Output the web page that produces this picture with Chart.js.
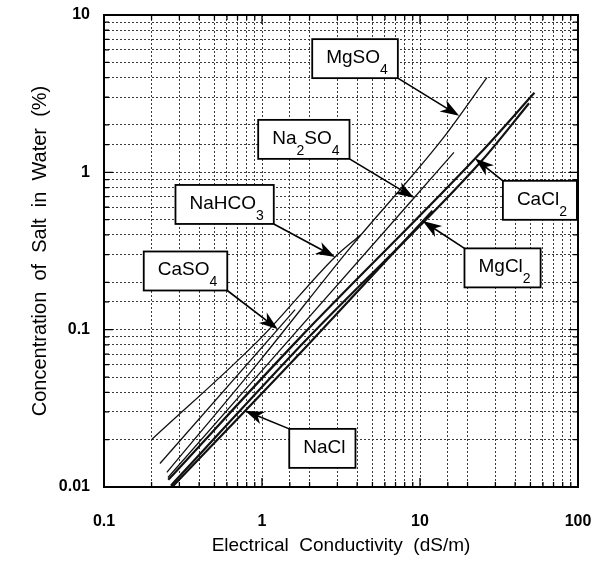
<!DOCTYPE html>
<html>
<head>
<meta charset="utf-8">
<script src="https://cdn.jsdelivr.net/npm/chart.js@4.4.1/dist/chart.umd.min.js"></script>
<style>
  html, body { margin: 0; padding: 0; background: #fff; }
</style>
</head>
<body>
<canvas id="saltChart" width="602" height="569"></canvas>
<script>
// decade labels on the two log axes
const xTickLabels = ["0.1", "1", "10", "100"];
const yTickLabels = ["0.01", "0.1", "1", "10"];

// salt curves: electrical conductivity (dS/m) vs concentration (%)
const nahco3EC = [0.2, 1.0, 2.9, 4.2];
const nahco3Conc = [0.02, 0.09, 0.29, 0.40];

const mgso4EC = [0.25, 1.0, 3.6, 13.8, 26.5];
const mgso4Conc = [0.0124, 0.066, 0.33, 1.62, 4.0];

const caso4EC = [0.226, 1.62];
const caso4Conc = [0.0141, 0.134];

const na2so4EC = [0.254, 9.3, 16.4];
const na2so4Conc = [0.0115, 0.70, 1.34];

const cacl2EC = [0.255, 1.74, 24, 53];
const cacl2Conc = [0.0111, 0.089, 1.32, 3.2];

const mgcl2EC = [0.265, 1.86, 24.5, 49];
const mgcl2Conc = [0.0102, 0.084, 1.18, 2.75];

const naclEC = [0.27, 1.95, 12];
const naclConc = [0.0100, 0.080, 0.57];

const FONT = "'Liberation Sans', Arial, Helvetica, sans-serif";
Chart.defaults.font.family = FONT;
Chart.defaults.color = "#000";

function series(name, ec, conc, width) {
  return {
    label: name,
    data: ec.map((x, i) => ({ x: x, y: conc[i] })),
    borderColor: "#111",
    borderWidth: width,
    pointRadius: 0,
    fill: false,
    cubicInterpolationMode: "monotone"
  };
}

const datasets = [
  series("NaHCO3", nahco3EC, nahco3Conc, 1.3),
  series("MgSO4", mgso4EC, mgso4Conc, 1.3),
  series("CaSO4", caso4EC, caso4Conc, 1.3),
  series("Na2SO4", na2so4EC, na2so4Conc, 1.3),
  series("CaCl2", cacl2EC, cacl2Conc, 2.2),
  series("MgCl2", mgcl2EC, mgcl2Conc, 2.2),
  series("NaCl", naclEC, naclConc, 2.2)
];

// boxed labels with arrows; "_" marks a subscript character
const notes = [
  { text: "MgSO_4", set: 1, tipX: 17.7, boxX: 3.88, boxY: 5.28, corner: "br" },
  { text: "Na_2SO_4", set: 3, tipX: 9.17, boxX: 1.84, boxY: 1.62, corner: "br" },
  { text: "NaHCO_3", set: 0, tipX: 2.9, boxX: 0.58, boxY: 0.625, corner: "br" },
  { text: "CaSO_4", set: 2, tipX: 1.26, boxX: 0.328, boxY: 0.236, corner: "br" },
  { text: "CaCl_2", set: 4, tipX: 22.3, boxX: 57.4, boxY: 0.664, corner: "tl" },
  { text: "MgCl_2", set: 5, tipX: 10.4, boxX: 33.3, boxY: 0.247, corner: "tl" },
  { text: "NaCl", set: 6, tipX: 0.78, boxX: 2.41, boxY: 0.0176, corner: "tl" }
];

function decadeLabel(labels, firstExp) {
  return function (value) {
    const e = Math.log10(value);
    const r = Math.round(e);
    if (Math.abs(e - r) > 1e-6) return "";
    return labels[r - firstExp] || "";
  };
}

// y on a series at a given x, straight in log-log between points
function valueAt(set, x) {
  const pts = datasets[set].data;
  const lx = Math.log10(x);
  for (let i = 0; i < pts.length - 1; i++) {
    const a = pts[i], b = pts[i + 1];
    const la = Math.log10(a.x), lb = Math.log10(b.x);
    if (lx >= la && lx <= lb) {
      const t = (lx - la) / (lb - la);
      return Math.pow(10, Math.log10(a.y) + t * (Math.log10(b.y) - Math.log10(a.y)));
    }
  }
  return pts[pts.length - 1].y;
}

function splitText(str) {
  const parts = [];
  for (let i = 0; i < str.length; i++) {
    if (str[i] === "_") {
      parts.push({ s: str[i + 1], sub: true });
      i++;
    } else if (parts.length && !parts[parts.length - 1].sub) {
      parts[parts.length - 1].s += str[i];
    } else {
      parts.push({ s: str[i], sub: false });
    }
  }
  return parts;
}

function drawArrow(ctx, x0, y0, x1, y1) {
  const a = Math.atan2(y1 - y0, x1 - x0);
  const c = Math.cos(a), s = Math.sin(a);
  const len = 19, half = 6.5;
  const bx = x1 - len * c, by = y1 - len * s;
  ctx.beginPath();
  ctx.moveTo(x0, y0);
  ctx.lineTo(x1 - 10 * c, y1 - 10 * s);
  ctx.stroke();
  ctx.beginPath();
  ctx.moveTo(x1, y1);
  ctx.lineTo(bx - half * s, by + half * c);
  ctx.lineTo(x1 - 0.72 * len * c, y1 - 0.72 * len * s);
  ctx.lineTo(bx + half * s, by - half * c);
  ctx.closePath();
  ctx.fill();
}

const framePlugin = {
  id: "frameAndNotes",
  afterDatasetsDraw(chart) {
    const { ctx, chartArea: ca, scales } = chart;
    ctx.save();
    ctx.strokeStyle = "#000";
    ctx.fillStyle = "#000";

    // inward tick marks on all four sides
    ctx.lineWidth = 1.3;
    scales.x.ticks.forEach((t) => {
      const px = scales.x.getPixelForValue(t.value);
      const e = Math.log10(t.value);
      const len = Math.abs(e - Math.round(e)) < 1e-6 ? 9 : 5;
      ctx.beginPath();
      ctx.moveTo(px, ca.bottom); ctx.lineTo(px, ca.bottom - len);
      ctx.moveTo(px, ca.top); ctx.lineTo(px, ca.top + len);
      ctx.stroke();
    });
    scales.y.ticks.forEach((t) => {
      const py = scales.y.getPixelForValue(t.value);
      const e = Math.log10(t.value);
      const len = Math.abs(e - Math.round(e)) < 1e-6 ? 9 : 5;
      ctx.beginPath();
      ctx.moveTo(ca.left, py); ctx.lineTo(ca.left + len, py);
      ctx.moveTo(ca.right, py); ctx.lineTo(ca.right - len, py);
      ctx.stroke();
    });

    ctx.lineWidth = 2;
    ctx.strokeRect(ca.left, ca.top, ca.right - ca.left, ca.bottom - ca.top);

    // labelled boxes
    const mainFont = "19px " + FONT;
    const subFont = "14px " + FONT;
    const boxH = 39;
    notes.forEach((n) => {
      const parts = splitText(n.text);
      let w = 0;
      parts.forEach((p) => {
        ctx.font = p.sub ? subFont : mainFont;
        p.w = ctx.measureText(p.s).width;
        w += p.w;
      });
      const boxW = w + 24;
      const cx = scales.x.getPixelForValue(n.boxX);
      const cy = scales.y.getPixelForValue(n.boxY);
      const left = cx - boxW / 2, top = cy - boxH / 2;

      const tipX = scales.x.getPixelForValue(n.tipX);
      const tipY = scales.y.getPixelForValue(valueAt(n.set, n.tipX));
      const tailX = n.corner === "br" ? left + boxW : left;
      const tailY = n.corner === "br" ? top + boxH : top;
      ctx.lineWidth = 1.6;
      drawArrow(ctx, tailX, tailY, tipX, tipY);

      ctx.fillStyle = "#fff";
      ctx.fillRect(left, top, boxW, boxH);
      ctx.lineWidth = 1.8;
      ctx.strokeRect(left, top, boxW, boxH);
      ctx.fillStyle = "#000";
      ctx.textBaseline = "alphabetic";
      ctx.textAlign = "left";
      let x = left + 14;
      parts.forEach((p) => {
        ctx.font = p.sub ? subFont : mainFont;
        ctx.fillText(p.s, x, p.sub ? top + 35 : top + 24);
        x += p.w;
      });
    });
    ctx.restore();
  }
};

const gridStyle = { color: "#3a3a3a", lineWidth: 1, drawTicks: false };

new Chart(document.getElementById("saltChart"), {
  type: "line",
  data: { datasets: datasets },
  options: {
    responsive: false,
    animation: false,
    devicePixelRatio: 1,
    layout: { padding: { top: 15, right: 24, left: 0, bottom: 0 } },
    plugins: { legend: { display: false }, tooltip: { enabled: false } },
    scales: {
      x: {
        type: "logarithmic",
        min: 0.1,
        max: 100,
        grid: gridStyle,
        border: { display: false, dash: [2, 2] },
        ticks: {
          autoSkip: false,
          maxRotation: 0,
          padding: 25,
          font: { size: 16, weight: "bold" },
          callback: decadeLabel(xTickLabels, -1)
        },
        title: {
          display: true,
          text: "Electrical  Conductivity  (dS/m)",
          font: { size: 19 },
          padding: { top: 0, bottom: 12 }
        },
        afterFit: (s) => {
          s.height = 82;
          s.paddingLeft = 0;
          s.paddingRight = 0;
        }
      },
      y: {
        type: "logarithmic",
        min: 0.01,
        max: 10,
        grid: gridStyle,
        border: { display: false, dash: [2, 2] },
        ticks: {
          autoSkip: false,
          padding: 14,
          font: { size: 16, weight: "bold" },
          callback: decadeLabel(yTickLabels, -2)
        },
        title: {
          display: true,
          text: "Concentration  of  Salt  in  Water  (%)",
          font: { size: 20 },
          padding: { top: 28, bottom: 0 }
        },
        afterFit: (s) => {
          s.width = 104;
          s.paddingTop = 0;
          s.paddingBottom = 0;
        }
      }
    }
  },
  plugins: [framePlugin]
});
</script>
</body>
</html>
